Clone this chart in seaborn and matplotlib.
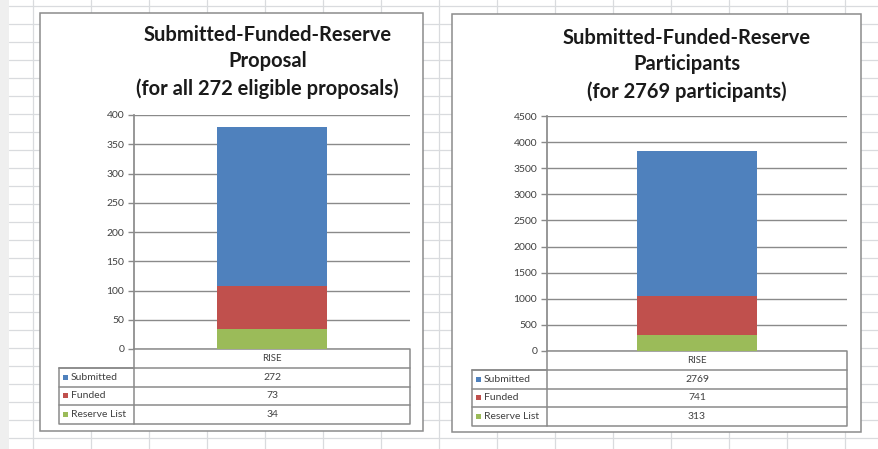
import matplotlib.pyplot as plt
from matplotlib.patches import Rectangle
import seaborn as sns
import pandas as pd

# data
category = ["RISE"]
series = ["Submitted", "Funded", "Reserve List"]
proposal_values = [272, 73, 34]
participant_values = [2769, 741, 313]
proposal_ticks = list(range(0, 401, 50))
participant_ticks = list(range(0, 4501, 500))

proposal_title = "Submitted-Funded-Reserve\nProposal\n(for all 272 eligible proposals)"
participant_title = "Submitted-Funded-Reserve\nParticipants\n(for 2769 participants)"

palette = {"Submitted": "#4f81bd", "Funded": "#c0504d", "Reserve List": "#9bbb59"}

sns.set_theme(style="white")
plt.rcParams["font.family"] = ["Lato", "DejaVu Sans"]

W, H = 879, 449
fig = plt.figure(figsize=(W / 100, H / 100), dpi=100)
fig.patch.set_facecolor("white")

# background "spreadsheet" in pixel coordinates
bg = fig.add_axes([0, 0, 1, 1], zorder=0)
bg.set_xlim(0, W)
bg.set_ylim(H, 0)
bg.axis("off")
bg.add_patch(Rectangle((0, 0), 9, H, color="#efefef", lw=0))
grid_c = "#d9dbde"
for x in range(33, W, 58):
    bg.plot([x, x], [0, H], color=grid_c, lw=0.9)
for y in range(6, H, 18):
    bg.plot([9, W], [y, y], color=grid_c, lw=0.9)

text_c = "#404040"
line_c = "#8a8a8a"


def draw_chart(box, plot, table, title, title_y, values, ticks):
    bx0, by0, bx1, by1 = box
    bg.add_patch(Rectangle((bx0, by0), bx1 - bx0, by1 - by0, facecolor="white",
                           edgecolor="#8c8c8c", lw=1.1, zorder=3))
    px0, py0, px1, py1 = plot
    bg.text((bx0 + bx1) / 2 + title[1], title_y, title[0], ha="center", va="top",
            fontsize=14.5, fontweight="bold", color="#1a1a1a", linespacing=1.4, zorder=4)

    ax = fig.add_axes([px0 / W, 1 - py1 / H, (px1 - px0) / W, (py1 - py0) / H], zorder=2)
    ax.patch.set_alpha(0)
    df = pd.DataFrame({"Group": category * len(series), "Series": series, "Value": values})
    # stacked: Reserve List at the bottom, then Funded, then Submitted
    stack = df.set_index("Series").loc[["Reserve List", "Funded", "Submitted"], "Value"].cumsum()
    for name in ["Submitted", "Funded", "Reserve List"]:
        sns.barplot(x=category, y=[stack[name]], color=palette[name], width=0.4,
                    saturation=1, linewidth=0, ax=ax, zorder=3)
    ax.set_ylim(ticks[0], ticks[-1])
    ax.set_yticks(ticks)
    ax.set_xlim(-0.5, 0.5)
    ax.set_xticks([])
    ax.set_xlabel("")
    ax.set_ylabel("")
    ax.yaxis.grid(True, color=line_c, lw=1)
    ax.set_axisbelow(True)
    for s in ["top", "right", "bottom"]:
        ax.spines[s].set_visible(False)
    ax.spines["left"].set_color(line_c)
    ax.tick_params(axis="y", left=True, length=4, width=1, color=line_c,
                   labelsize=7.5, labelcolor=text_c, pad=3)

    # data table under the chart
    tl, td, tr, ty, rh = table
    lw = 1.1
    bg.plot([td, tr, tr, td, td], [ty, ty, ty + 4 * rh, ty + 4 * rh, ty], color=line_c, lw=lw, zorder=4)
    bg.plot([tl, td], [ty + rh, ty + rh], color=line_c, lw=lw, zorder=4)
    bg.plot([tl, tl, td], [ty + rh, ty + 4 * rh, ty + 4 * rh], color=line_c, lw=lw, zorder=4)
    bg.text((td + tr) / 2, ty + rh / 2, category[0], ha="center", va="center",
            fontsize=7, color=text_c, zorder=5)
    for i, (name, val) in enumerate(zip(series, values)):
        yy = ty + (i + 1) * rh
        bg.plot([tl, tr], [yy, yy], color=line_c, lw=lw, zorder=4)
        bg.add_patch(Rectangle((tl + 4, yy + rh / 2 - 2.5), 5, 5, color=palette[name], lw=0, zorder=5))
        bg.text(tl + 12, yy + rh / 2, name, ha="left", va="center", fontsize=7.5,
                color=text_c, zorder=5)
        bg.text((td + tr) / 2, yy + rh / 2, str(val), ha="center", va="center",
                fontsize=7.5, color=text_c, zorder=5)


draw_chart((40, 13, 423, 431), (134, 115, 410, 349), (59, 134, 410, 349, 18.75),
           (proposal_title, 36), 25, proposal_values, proposal_ticks)
draw_chart((452, 14, 861, 432), (547, 116, 847, 351), (472, 547, 847, 351, 18.75),
           (participant_title, 30), 28, participant_values, participant_ticks)

fig.savefig("out.png", dpi=100)
